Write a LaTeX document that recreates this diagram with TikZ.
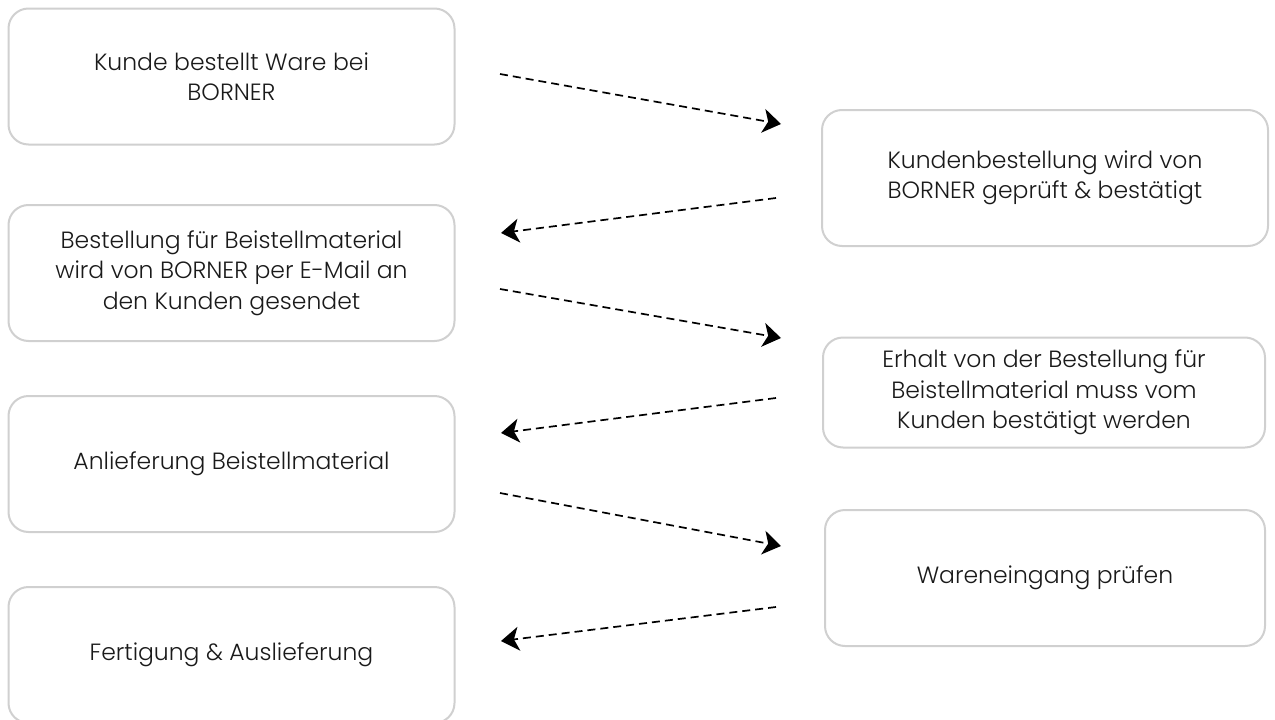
\documentclass[tikz,border=0pt]{standalone}
\usepackage{fontspec}
\setmainfont{Poppins Light}
\usetikzlibrary{arrows.meta}
\definecolor{boxgray}{HTML}{D0D0D0}
\definecolor{txt}{HTML}{1A1A1A}
\tikzset{
  stepbox/.style={draw=boxgray, line width=2pt, rounded corners=20pt, fill=white,
    minimum width=446pt, minimum height=136pt, align=center, text=txt,
    font=\fontsize{23.5}{30.5}\selectfont, inner sep=0pt},
  flow/.style={line width=1.7pt, dash pattern=on 8pt off 5pt,
    -{Stealth[length=18pt,width=24pt,inset=5pt]}}
}
\begin{document}
\begin{tikzpicture}[x=1pt,y=-1pt]
\useasboundingbox (0,0) rectangle (1275,720);
\node[stepbox] (a) at (231.5,76.5) {Kunde bestellt Ware bei\\BORNER};
\node[stepbox] (b) at (1045,178) {Kundenbestellung wird von\\BORNER geprüft \& bestätigt};
\node[stepbox] (c) at (231.5,273) {Bestellung für Beistellmaterial\\wird von BORNER per E-Mail an\\den Kunden gesendet};
\node[stepbox, minimum width=442pt, minimum height=110pt] (d) at (1044,392.5) {Erhalt von der Bestellung für\\Beistellmaterial muss vom\\Kunden bestätigt werden};
\node[stepbox] (e) at (231.5,464) {Anlieferung Beistellmaterial};
\node[stepbox, minimum width=440pt] (f) at (1045,578) {Wareneingang prüfen};
\node[stepbox] (g) at (231.5,655) {Fertigung \& Auslieferung};
\coordinate (a1s) at (500,74); \coordinate (a1e) at (781,124);
\coordinate (a2s) at (776,198); \coordinate (a2e) at (501,233);
\coordinate (a3s) at (500,289); \coordinate (a3e) at (781,338);
\coordinate (a4s) at (776,398); \coordinate (a4e) at (501,433);
\coordinate (a5s) at (500,493); \coordinate (a5e) at (781,546);
\coordinate (a6s) at (776,607); \coordinate (a6e) at (501,641);
\draw[flow] (a1s) -- (a1e);
\draw[flow] (a2s) -- (a2e);
\draw[flow] (a3s) -- (a3e);
\draw[flow] (a4s) -- (a4e);
\draw[flow] (a5s) -- (a5e);
\draw[flow] (a6s) -- (a6e);
\end{tikzpicture}
\end{document}
